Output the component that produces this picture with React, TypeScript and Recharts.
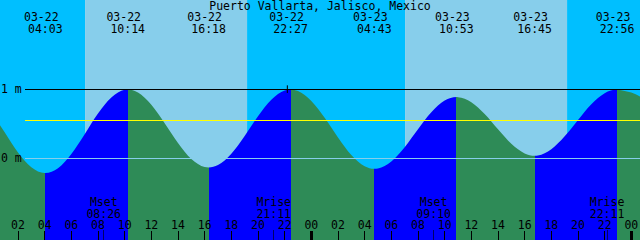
import React from 'react';
import { ComposedChart, Area, XAxis, YAxis, ReferenceArea, ReferenceLine } from 'recharts';

const W = 640;
const H = 240;
// hours counted from 03-22 00:00
const T0 = 0.65;
const T1 = 48.65;
const Y_MIN = -1.1812;
const Y_MAX = 2.2971;

const FONT = '"DejaVu Sans Mono", monospace';
const NIGHT = '#00BFFF';
const DAY = '#87CEEB';
const FALL = '#2E8B57';
const RISE = '#0000FF';

// tide level (m), hourly
const hours = [
  0, 1, 2, 3, 4, 5, 6, 7, 8, 9, 10, 11, 12, 13, 14, 15, 16, 17, 18, 19, 20, 21, 22, 23, 24,
  25, 26, 27, 28, 29, 30, 31, 32, 33, 34, 35, 36, 37, 38, 39, 40, 41, 42, 43, 44, 45, 46, 47, 48, 49,
];
const levels = [
  0.675, 0.38, 0.088, -0.126, -0.21, -0.141, 0.064, 0.352, 0.651, 0.885, 0.996, 0.956, 0.779, 0.512,
  0.225, -0.007, -0.123, -0.094, 0.07, 0.327, 0.612, 0.852, 0.985, 0.978, 0.835, 0.591, 0.306, 0.051,
  -0.113, -0.145, -0.043, 0.164, 0.423, 0.669, 0.839, 0.889, 0.816, 0.645, 0.423, 0.213, 0.074, 0.044,
  0.134, 0.321, 0.559, 0.787, 0.947, 0.998, 0.955, 0.86,
];

// high / low tides
const eventTimes = [4.05, 10.23, 16.3, 22.45, 28.72, 34.88, 40.75, 46.93];
const eventLevels = [-0.21, 1.0, -0.13, 1.0, -0.15, 0.89, 0.04, 1.0];
const eventDates = ['03-22', '03-22', '03-22', '03-22', '03-23', '03-23', '03-23', '03-23'];
const eventClock = ['04:03', '10:14', '16:18', '22:27', '04:43', '10:53', '16:45', '22:56'];

// sunrise, sunset, sunrise, sunset
const sunTimes = [7.03, 19.18, 31.03, 43.18];

const moonTimes = [8.43, 21.18, 33.17, 46.18];
const moonNames = ['Mset', 'Mrise', 'Mset', 'Mrise'];
const moonClock = ['08:26', '21:11', '09:10', '22:11'];

const meanLevel = 0.55;
const markTime = 22.2;
const tickHours = [2, 4, 6, 8, 10, 12, 14, 16, 18, 20, 22, 24, 26, 28, 30, 32, 34, 36, 38, 40, 42, 44, 46, 48];

const data = [
  ...hours.map((t, i) => ({ t, h: levels[i] })),
  ...eventTimes.map((t, i) => ({ t, h: eventLevels[i] })),
].sort((a, b) => a.t - b.t);

const segEdges = [T0, ...eventTimes, T1];
const bandEdges = [T0, ...sunTimes, T1];
const frac = (t: number) => (t - T0) / (T1 - T0);

const txt = { fontFamily: FONT, fontSize: 11.5, fill: '#000' };

const HourTick = ({ x, payload }: any) => {
  const hr = payload.value % 24;
  return (
    <g>
      <line x1={x} x2={x} y1={H - 9} y2={H} stroke="#000" strokeWidth={hr === 0 ? 3 : 1} shapeRendering="crispEdges" />
      <text x={x} y={H - 11} textAnchor="middle" {...txt}>{String(hr).padStart(2, '0')}</text>
    </g>
  );
};

const LevelTick = ({ y, payload }: any) => (
  <text x={1} y={y + 4} textAnchor="start" {...txt}>{`${payload.value} m`}</text>
);

const TrimmedLine = (p: any) => (
  <line
    x1={Math.min(p.x1, p.x2) + 25}
    x2={Math.max(p.x1, p.x2)}
    y1={p.y1}
    y2={p.y2}
    stroke={p.stroke}
    strokeWidth={1}
    shapeRendering="crispEdges"
  />
);

const EventLabel = ({ viewBox, date, clock }: any) => (
  <g>
    <text x={viewBox.x - 4} y={viewBox.y + 20.5} textAnchor="middle" {...txt}>{date}</text>
    <text x={viewBox.x} y={viewBox.y + 33} textAnchor="middle" {...txt}>{clock}</text>
  </g>
);

const MoonLabel = ({ viewBox, name, clock }: any) => {
  const bottom = viewBox.y + viewBox.height;
  return (
    <g>
      <line x1={viewBox.x} x2={viewBox.x} y1={bottom - 10} y2={bottom} stroke="#000" strokeWidth={1} strokeOpacity={0.6} shapeRendering="crispEdges" />
      <text x={viewBox.x} y={bottom - 34} textAnchor="middle" {...txt}>{name}</text>
      <text x={viewBox.x} y={bottom - 22} textAnchor="middle" {...txt}>{clock}</text>
    </g>
  );
};

export default function App() {
  return (
    <div style={{ position: 'absolute', left: 0, top: 0, width: W, height: H }}>
      <ComposedChart width={W} height={H} data={data} margin={{ top: 0, right: 0, bottom: 0, left: 0 }}>
        <defs>
          <linearGradient id="tideFill" gradientUnits="userSpaceOnUse" x1={0} y1={0} x2={W} y2={0}>
            {segEdges.slice(0, -1).map((t, i) => {
              const c = i % 2 === 0 ? FALL : RISE;
              return (
                <React.Fragment key={i}>
                  <stop offset={frac(t)} stopColor={c} />
                  <stop offset={frac(segEdges[i + 1])} stopColor={c} />
                </React.Fragment>
              );
            })}
          </linearGradient>
        </defs>
        <XAxis
          type="number"
          dataKey="t"
          domain={[T0, T1]}
          allowDataOverflow
          ticks={tickHours}
          interval={0}
          mirror
          axisLine={false}
          tickLine={false}
          tick={<HourTick />}
        />
        <YAxis
          type="number"
          domain={[Y_MIN, Y_MAX]}
          allowDataOverflow
          ticks={[0, 1]}
          mirror
          axisLine={false}
          tickLine={false}
          tick={<LevelTick />}
        />
        {bandEdges.slice(0, -1).map((t, i) => (
          <ReferenceArea
            key={`band-${i}`}
            x1={t}
            x2={bandEdges[i + 1]}
            fill={i % 2 === 0 ? NIGHT : DAY}
            fillOpacity={1}
            stroke="none"
            zIndex={-60}
          />
        ))}
        <Area
          type="monotone"
          dataKey="h"
          baseValue={Y_MIN}
          fill="url(#tideFill)"
          fillOpacity={1}
          stroke="none"
          dot={false}
          activeDot={false}
          isAnimationActive={false}
        />
        <ReferenceLine y={1} stroke="#000" shape={TrimmedLine} />
        <ReferenceLine y={meanLevel} stroke="#FFFF00" shape={TrimmedLine} />
        <ReferenceLine y={0} stroke={DAY} shape={TrimmedLine} />
        <ReferenceLine
          segment={[{ x: markTime, y: 0.95 }, { x: markTime, y: 1.06 }]}
          stroke="#000"
          strokeWidth={1}
        />
        {eventTimes.map((t, i) => (
          <ReferenceLine
            key={`ev-${i}`}
            x={t}
            stroke="none"
            label={<EventLabel date={eventDates[i]} clock={eventClock[i]} />}
          />
        ))}
        {moonTimes.map((t, i) => (
          <ReferenceLine
            key={`moon-${i}`}
            x={t}
            stroke="none"
            label={<MoonLabel name={moonNames[i]} clock={moonClock[i]} />}
          />
        ))}
      </ComposedChart>
      <svg width={W} height={20} style={{ position: 'absolute', left: 0, top: 0, pointerEvents: 'none' }}>
        <text x={W / 2} y={10} textAnchor="middle" {...txt}>Puerto Vallarta, Jalisco, Mexico</text>
      </svg>
    </div>
  );
}
